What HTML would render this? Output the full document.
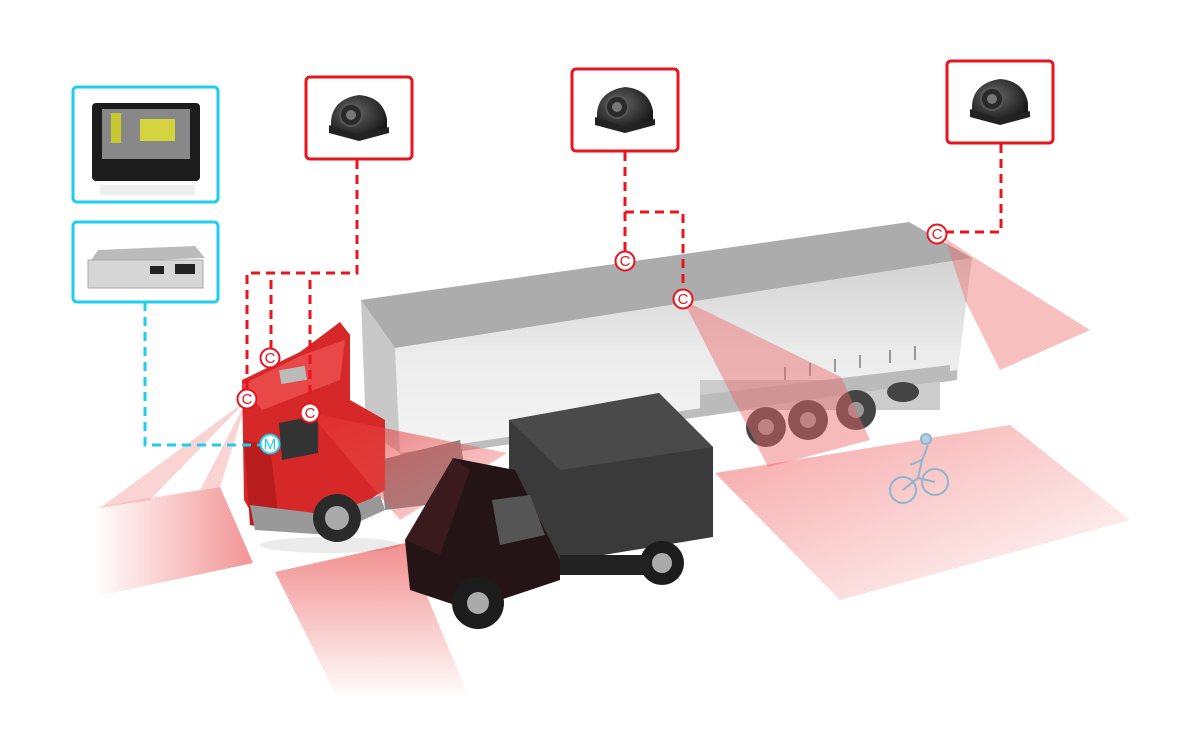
<!DOCTYPE html>
<html><head><meta charset="utf-8"><style>
html,body{margin:0;padding:0;background:#fff;}
svg{display:block;font-family:"Liberation Sans",sans-serif;}
</style></head><body>
<svg width="1200" height="740" viewBox="0 0 1200 740" xmlns="http://www.w3.org/2000/svg">
<defs>
<linearGradient id="fl" x1="1" y1="0" x2="0" y2="0"><stop offset="0" stop-color="#f08080" stop-opacity=".85"/><stop offset="1" stop-color="#f08080" stop-opacity="0"/></linearGradient>
<linearGradient id="fd" x1="0" y1="0" x2="0" y2="1"><stop offset="0" stop-color="#f07a7a" stop-opacity=".85"/><stop offset="1" stop-color="#f07a7a" stop-opacity="0"/></linearGradient>
<linearGradient id="fr" x1="0" y1="0" x2="1" y2="1"><stop offset="0" stop-color="#f27c7c" stop-opacity=".7"/><stop offset="1" stop-color="#f27c7c" stop-opacity="0"/></linearGradient>
<linearGradient id="wedge" x1="0" y1="0" x2="1" y2="1"><stop offset="0" stop-color="#e63030" stop-opacity=".7"/><stop offset="1" stop-color="#f07070" stop-opacity=".25"/></linearGradient>
<linearGradient id="tr" x1="0" y1="0" x2="0" y2="1"><stop offset="0" stop-color="#d2d2d2"/><stop offset=".5" stop-color="#ececec"/><stop offset="1" stop-color="#f4f4f4"/></linearGradient>
<radialGradient id="cam" cx=".4" cy=".4" r=".7"><stop offset="0" stop-color="#666"/><stop offset="1" stop-color="#111"/></radialGradient>
<symbol id="camera" viewBox="0 0 80 60">
<path d="M12 46 L12 36 Q14 14 40 10 Q64 12 68 34 L68 46 Q50 54 30 52 Z" fill="url(#cam)"/>
<path d="M10 40 L40 50 L70 42 L70 48 L40 56 L10 48 Z" fill="#222"/>
<circle cx="32" cy="30" r="11" fill="#2a2a2a" stroke="#555" stroke-width="2"/>
<circle cx="32" cy="30" r="5" fill="#777"/>
</symbol>
</defs>

<polygon points="93,507 220,487 253,563 93,597" fill="url(#fl)"/>
<polygon points="247,400 100,508 150,500" fill="#f08080" opacity=".35"/>
<polygon points="247,400 200,490 220,487" fill="#f08080" opacity=".35"/>
<polygon points="275,572 405,543 470,700 337,697" fill="url(#fd)"/>
<polygon points="715,473 1010,425 1130,520 840,600" fill="url(#fr)"/>

<polygon points="361,300 909,222 972,258 395,348" fill="#acacac"/>
<polygon points="395,348 972,258 957,377 400,453" fill="url(#tr)"/>
<polygon points="361,300 395,348 400,453 366,430" fill="#c8c8c8"/>
<polygon points="400,453 957,370 957,380 400,460" fill="#bdbdbd"/>
<g stroke="#999" stroke-width="2"><line x1="860" y1="355" x2="860" y2="368"/><line x1="890" y1="350" x2="890" y2="363"/><line x1="915" y1="346" x2="915" y2="360"/><line x1="835" y1="359" x2="835" y2="372"/><line x1="810" y1="363" x2="810" y2="376"/><line x1="785" y1="367" x2="785" y2="380"/></g>
<rect x="700" y="380" width="240" height="30" fill="#ccc"/>
<polygon points="700,395 950,365 950,380 700,415" fill="#bbb"/>
<g fill="#444"><circle cx="766" cy="427" r="20"/><circle cx="808" cy="420" r="20"/><circle cx="856" cy="410" r="20"/><ellipse cx="903" cy="392" rx="16" ry="10"/></g>
<g fill="#999"><circle cx="766" cy="427" r="8"/><circle cx="808" cy="420" r="8"/><circle cx="856" cy="410" r="8"/></g>

<polygon points="945,238 975,258 1090,330 1000,370 965,300" fill="#f07070" opacity=".45"/>
<polygon points="683,300 841,377 870,440 768,467" fill="#ee6666" opacity=".45"/>

<polygon points="380,460 460,440 470,500 385,510" fill="#888"/>
<polygon points="242,380 300,352 340,322 350,335 350,400 385,420 385,490 330,525 260,528 244,500" fill="#d62828"/>
<polygon points="242,385 300,356 345,340 340,380 262,410" fill="#e84848"/>
<rect x="280" y="368" width="26" height="14" fill="#bbb" transform="rotate(-10 293 375)"/>
<polygon points="279,423 318,415 318,453 282,460" fill="#333"/>
<polygon points="244,440 270,445 280,530 250,525" fill="#b81c1c"/>
<polygon points="250,505 330,515 380,495 385,510 330,535 255,530" fill="#999"/>
<ellipse cx="330" cy="545" rx="70" ry="8" fill="#000" opacity=".08"/>
<circle cx="337" cy="518" r="24" fill="#2a2a2a"/><circle cx="337" cy="518" r="12" fill="#aaa"/>

<polygon points="310,413 507,453 400,520" fill="url(#wedge)"/>

<polygon points="509,420 659,393 713,447 713,537 555,563 509,510" fill="#3a3a3a"/>
<polygon points="509,420 659,393 713,447 560,470" fill="#4a4a4a"/>
<polygon points="453,458 515,470 560,560 560,580 470,610 410,590 405,540" fill="#241416"/>
<polygon points="405,540 453,458 470,470 440,555" fill="#3a1a1c"/>
<polygon points="492,500 530,495 545,535 500,545" fill="#555"/>
<circle cx="478" cy="603" r="26" fill="#1c1c1c"/><circle cx="478" cy="603" r="11" fill="#aaa"/>
<circle cx="662" cy="563" r="22" fill="#1c1c1c"/><circle cx="662" cy="563" r="10" fill="#aaa"/>
<rect x="560" y="555" width="90" height="20" fill="#222"/>

<g stroke="#8fb5d0" stroke-width="2" fill="none">
<circle cx="903" cy="490" r="13"/><circle cx="935" cy="482" r="13"/>
<path d="M903 490 L918 478 L935 482 M918 478 L922 460 L928 445 M922 460 L910 465"/>
<circle cx="926" cy="439" r="5" fill="#b5d0e2"/>
</g>

<rect x="73" y="87" width="145" height="115" rx="4" fill="#fff" stroke="#20cdee" stroke-width="3"/>
<rect x="92" y="103" width="108" height="78" rx="4" fill="#1c1c1c"/>
<rect x="102" y="109" width="88" height="50" fill="#888"/>
<rect x="111" y="113" width="10" height="30" fill="#c8c830"/>
<rect x="140" y="119" width="35" height="22" fill="#d4d440"/>
<rect x="100" y="185" width="95" height="10" fill="#eee"/>
<rect x="73" y="222" width="145" height="80" rx="4" fill="#fff" stroke="#20cdee" stroke-width="3"/>
<polygon points="98,250 195,246 205,258 90,262" fill="#bbb"/>
<rect x="88" y="260" width="115" height="28" fill="#d6d6d6" stroke="#aaa"/>
<rect x="150" y="266" width="14" height="8" fill="#222"/><rect x="175" y="264" width="20" height="10" fill="#222"/>

<rect x="306" y="77" width="106" height="82" rx="4" fill="#fff" stroke="#e8141e" stroke-width="3"/>
<use href="#camera" x="319" y="85" width="80" height="60"/>
<rect x="572" y="69" width="106" height="82" rx="4" fill="#fff" stroke="#e8141e" stroke-width="3"/>
<use href="#camera" x="585" y="77" width="80" height="60"/>
<rect x="947" y="61" width="106" height="82" rx="4" fill="#fff" stroke="#e8141e" stroke-width="3"/>
<use href="#camera" x="960" y="69" width="80" height="60"/>

<g stroke="#e8141e" stroke-width="3" fill="none" stroke-dasharray="9,6">
<path d="M357 160 V273 H247 V390"/>
<path d="M271 280 V349"/>
<path d="M310 280 V403"/>
<path d="M625 152 V252"/>
<path d="M625 212 H683 V290"/>
<path d="M1001 144 V232 H946"/>
</g>
<path d="M145 302 V445 H262" stroke="#20cdee" stroke-width="3" fill="none" stroke-dasharray="9,6"/>

<g font-size="15" text-anchor="middle" fill="#e8141e">
<g><circle cx="270" cy="358" r="9.5" fill="#fff" stroke="#e8141e" stroke-width="2"/><text x="270" y="363">C</text></g>
<g><circle cx="247" cy="399" r="9.5" fill="#fff" stroke="#e8141e" stroke-width="2"/><text x="247" y="404">C</text></g>
<g><circle cx="310" cy="413" r="9.5" fill="#fff" stroke="#e8141e" stroke-width="2"/><text x="310" y="418">C</text></g>
<g><circle cx="625" cy="261" r="9.5" fill="#fff" stroke="#e8141e" stroke-width="2"/><text x="625" y="266">C</text></g>
<g><circle cx="683" cy="299" r="9.5" fill="#fff" stroke="#e8141e" stroke-width="2"/><text x="683" y="304">C</text></g>
<g><circle cx="937" cy="234" r="9.5" fill="#fff" stroke="#e8141e" stroke-width="2"/><text x="937" y="239">C</text></g>
</g>
<circle cx="270" cy="444" r="9.5" fill="#fff" stroke="#20cdee" stroke-width="2"/>
<text x="270" y="449" font-size="15" text-anchor="middle" fill="#20cdee">M</text>
</svg>
</body></html>
